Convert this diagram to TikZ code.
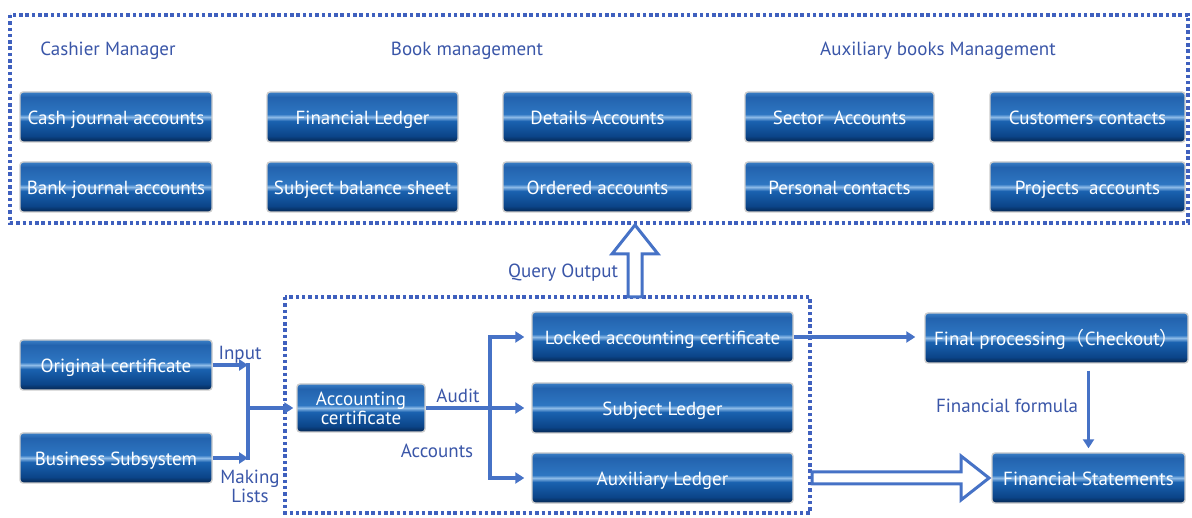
\documentclass[tikz,border=0pt]{standalone}
\usepackage{fontspec}
\setmainfont{PT Sans}
\newfontfamily\cjkfont{Noto Sans CJK SC}
\usetikzlibrary{calc,arrows.meta}
\definecolor{lblue}{HTML}{3A56A8}
\definecolor{dotblue}{HTML}{3F60BE}
\definecolor{arrblue}{HTML}{4672C6}
\definecolor{bA}{HTML}{062650}
\definecolor{bB}{HTML}{0B4488}
\definecolor{bC}{HTML}{1A62B0}
\definecolor{bW}{HTML}{8FBCE8}
\definecolor{bD}{HTML}{2E76C2}
\definecolor{bE}{HTML}{2363AE}
\definecolor{bF}{HTML}{3A7EC6}
\pgfdeclareverticalshading{btn}{100bp}{color(0bp)=(bA); color(25bp)=(bA); color(31bp)=(bB); color(46bp)=(bC); color(50bp)=(bW); color(53bp)=(bD); color(70bp)=(bE); color(75bp)=(bF); color(100bp)=(bF)}
\tikzset{
  btnbase/.style={rectangle, rounded corners=3pt, shading=btn, draw=gray!40, line width=1.4pt,
    text=white, font=\fontsize{19}{19}\selectfont, minimum height=50pt, inner sep=0pt},
  btn/.style={btnbase, text height=17pt, text depth=2pt},
  btntwo/.style={btnbase, align=center},
  lblbase/.style={text=lblue, font=\fontsize{19}{19}\selectfont, inner sep=0pt},
  lbl/.style={lblbase, text height=17pt, text depth=2pt},
  lbltwo/.style={lblbase, align=center},
  conn/.style={draw=arrblue, line width=3.5pt, -{Triangle[length=9pt,width=11pt]}},
  plain/.style={draw=arrblue, line width=3.5pt},
  dotbox/.style={draw=dotblue, line width=3.5pt, dash pattern=on 3.5pt off 2.8pt},
  hollow/.style={draw=arrblue, line width=3pt, fill=white, line join=miter},
}
\begin{document}
\begin{tikzpicture}[x=1pt,y=-1pt]
\useasboundingbox (0,0) rectangle (1192,518);
% dotted group boxes
\draw[dotbox] (10,15) rectangle (1188,223);
\draw[dotbox] (285,297) rectangle (810,513);
% headings
\node[lbl] (hcash) at (108,48) {Cashier Manager};
\node[lbl] (hbook) at (467,48) {Book management};
\node[lbl] (haux) at (938,48) {Auxiliary books Management};
% top boxes
\node[btn, minimum width=192pt] (cash) at (116,117) {Cash journal accounts};
\node[btn, minimum width=191pt] (finl) at (362.5,117) {Financial Ledger};
\node[btn, minimum width=189pt] (det) at (597.5,117) {Details Accounts};
\node[btn, minimum width=189pt] (sec) at (839.5,117) {Sector\ \ Accounts};
\node[btn, minimum width=195pt] (cust) at (1087.5,117) {Customers contacts};
\node[btn, minimum width=192pt] (bank) at (116,187) {Bank journal accounts};
\node[btn, minimum width=191pt] (sbs) at (362.5,187) {Subject balance sheet};
\node[btn, minimum width=189pt] (ord) at (597.5,187) {Ordered accounts};
\node[btn, minimum width=189pt] (pers) at (839.5,187) {Personal contacts};
\node[btn, minimum width=195pt] (proj) at (1087.5,187) {Projects\ \ accounts};
% bottom boxes
\node[btn, minimum width=192pt] (orig) at (116,365) {Original certificate};
\node[btn, minimum width=192pt] (bus) at (116,458) {Business Subsystem};
\node[btntwo, minimum width=128pt, minimum height=48pt] (acc) at (361,408) {Accounting\\certificate};
\node[btn, minimum width=261pt] (lock) at (662.5,337) {Locked accounting certificate};
\node[btn, minimum width=261pt] (subj) at (662.5,408) {Subject Ledger};
\node[btn, minimum width=261pt] (aux) at (662.5,478) {Auxiliary Ledger};
\node[btn, minimum width=263pt] (fin) at (1056.5,338) {Final processing{\cjkfont （}Checkout{\cjkfont ）}};
\node[btn, minimum width=193pt] (fs) at (1088.5,478) {Financial Statements};
% junctions
\coordinate (j1) at (248,408);
\coordinate (j2) at (490,408);
% connectors left
\draw[conn] (orig.east) -- (orig.east -| j1);
\draw[conn] (bus.east) -- (bus.east -| j1);
\draw[plain] ($(orig.east -| j1)+(0,-1.75)$) -- ($(bus.east -| j1)+(0,1.75)$);
\draw[conn, shorten >=3pt] (j1) -- (acc.west);
% connectors middle
\draw[plain] (acc.east) -- (j2);
\draw[plain] ($(j2 |- lock.west)+(0,-1.75)$) -- ($(j2 |- aux.west)+(0,1.75)$);
\draw[conn, shorten >=7pt] (j2 |- lock.west) -- (lock.west);
\draw[conn, shorten >=7pt] (j2) -- (subj.west);
\draw[conn, shorten >=7pt] (j2 |- aux.west) -- (aux.west);
% right connectors
\draw[conn, shorten >=9pt] (lock.east) -- (lock.east -| fin.west);
\draw[conn, shorten <=7pt, shorten >=4pt] (fs.north |- fin.south) -- (fs.north);
% hollow arrows
\coordinate (qb) at (635,297);
\coordinate (qt) at (635,225);
\draw[hollow] ($(qb)+(-7,0)$) -- ($(qt)+(-7,29)$) -- ($(qt)+(-23,29)$) -- (qt) -- ($(qt)+(23,29)$) -- ($(qt)+(7,29)$) -- ($(qb)+(7,0)$) -- cycle;
\coordinate (ra) at (812,478);
\coordinate (rt) at (989,478);
\draw[hollow] ($(ra)+(0,-6)$) -- ($(rt)+(-28,-6)$) -- ($(rt)+(-28,-22)$) -- (rt) -- ($(rt)+(-28,22)$) -- ($(rt)+(-28,6)$) -- ($(ra)+(0,6)$) -- cycle;
% labels
\node[lbl] (linput) at (240,352) {Input};
\node[lbltwo] (lmake) at (250,486) {Making\\Lists};
\node[lbl] (laudit) at (458,395) {Audit};
\node[lbl] (laccts) at (437,450) {Accounts};
\node[lbl] (lquery) at (563,270) {Query Output};
\node[lbl] (lformula) at (1007,405) {Financial formula};
\end{tikzpicture}
\end{document}
